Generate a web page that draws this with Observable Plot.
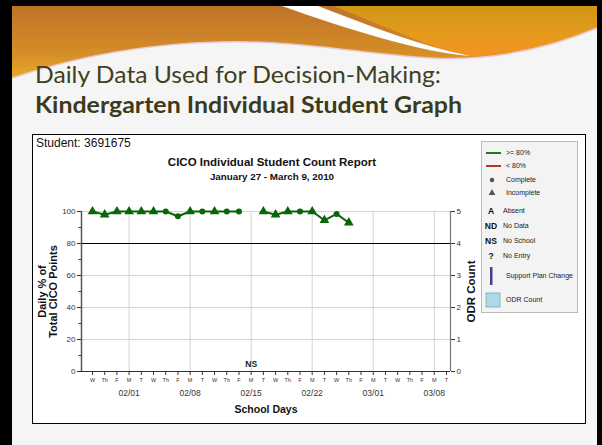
<!DOCTYPE html>
<html>
<head>
<meta charset="utf-8">
<script src="https://cdn.jsdelivr.net/npm/d3@7"></script>
<script src="https://cdn.jsdelivr.net/npm/@observablehq/plot@0.6"></script>
<style>
  html, body { margin: 0; padding: 0; background: #f5f5f5; }
  #slide { position: relative; width: 602px; height: 445px; overflow: hidden; background: #f5f5f5; font-family: "Liberation Sans", Arial, sans-serif; }
  #deco { position: absolute; left: 0; top: 0; }
  #chartbox { position: absolute; left: 32px; top: 134px; width: 552px; height: 288px; background: #fff; border: 1px solid #000; }
  .abs { position: absolute; white-space: nowrap; }
</style>
</head>
<body>
<div id="slide">
  <svg id="deco" width="602" height="445">
    <defs>
      <linearGradient id="gLeft" x1="0" y1="0" x2="0" y2="1">
        <stop offset="0" stop-color="#bb6f2a"/>
        <stop offset="0.6" stop-color="#d58e27"/>
        <stop offset="1" stop-color="#f4b82a"/>
      </linearGradient>
      <linearGradient id="gRight" x1="0" y1="0" x2="0" y2="1">
        <stop offset="0" stop-color="#c99714"/>
        <stop offset="0.6" stop-color="#e59a1c"/>
        <stop offset="1" stop-color="#f39424"/>
      </linearGradient>
    </defs>
    <rect x="0" y="0" width="602" height="90" fill="url(#gLeft)"/>
    <path d="M318,0 L602,0 L602,30 C560,44 520,54 470,56 C440,52 400,32 318,0 Z" fill="url(#gRight)"/>
    <path d="M282,6 L318,6 C370,26 420,46 470,56 C420,52 350,30 282,6 Z" fill="#ffffff"/>
    <path d="M0,90 L12,78 C60,62 130,44 220,42 C300,40 360,54 430,58 C500,62 560,44 602,26 L602,90 Z" fill="#f5f5f5"/>
    <path d="M12,78 C60,62 130,44 220,42 C300,40 360,54 430,58 C500,62 560,44 602,26" fill="none" stroke="#e8c8d0" stroke-width="1.5"/>
    <rect x="0" y="0" width="602" height="6" fill="#000"/>
    <rect x="0" y="0" width="12" height="445" fill="#000"/>
    <rect x="597" y="0" width="5" height="445" fill="#000"/>
    <text x="35" y="83" font-family="Lato, 'Open Sans', sans-serif" font-size="23" fill="#3f3f22" textLength="406" lengthAdjust="spacingAndGlyphs">Daily Data Used for Decision-Making:</text>
    <text x="35" y="113" font-family="Lato, 'Open Sans', sans-serif" font-size="23" font-weight="bold" fill="#3b3b1c" textLength="427" lengthAdjust="spacingAndGlyphs">Kindergarten Individual Student Graph</text>
  </svg>
  <div id="chartbox">
    <div class="abs" style="left:3px;top:1px;font-size:12px;color:#111;">Student: 3691675</div>
    <div class="abs" style="left:0;top:21px;width:478px;text-align:center;font-size:11.5px;font-weight:bold;color:#111;">CICO Individual Student Count Report</div>
    <div class="abs" style="left:0;top:36px;width:478px;text-align:center;font-size:9.8px;font-weight:bold;color:#111;">January 27 - March 9, 2010</div>
    <div id="plot" class="abs" style="left:0;top:50px;"></div>
    <div id="legend" class="abs" style="left:448px;top:6px;"></div>
  </div>
</div>
<script>
// ---- data ----
const days = ["W","Th","F","M","T","W","Th","F","M","T","W","Th","F","M","T","W","Th","F","M","T","W","Th","F","M","T","W","Th","F","M","T"];
const mondayIdx = [3, 8, 13, 18, 23, 28];
const mondayLabels = ["02/01","02/08","02/15","02/22","03/01","03/08"];
const pct = [100, 98, 100, 100, 100, 100, 100, 97, 100, 100, 100, 100, 100, null, 100, 98, 100, 100, 100, 94.5, 98.5, 93];
const status = ["I","I","I","I","I","I","C","C","I","C","I","C","C", null, "I","I","I","C","I","I","C","I"];
const pctTicks = [0, 20, 40, 60, 80, 100];
const pctMinorTicks = [10, 30, 50, 70, 90];
const pctGrid = [20, 40, 60, 100];
const goalPct = 80;
const odrTicks = [0, 1, 2, 3, 4, 5];
const odrMax = 5;
const noSchoolIdx = [13];
const legendLines = [">= 80%", "< 80%"];
const legendMarkers = ["Complete", "Incomplete"];
const legendCodes = ["A", "ND", "NS", "?"];
const legendCodeLabels = ["Absent", "No Data", "No School", "No Entry"];
const legendOther = ["Support Plan Change", "ODR Count"];

// ---- table ----
const rows = days.map((d, i) => ({ i, day: d, pct: pct[i] ?? null, status: status[i] ?? null }));
const valid = rows.filter(d => d.pct != null);
const x0 = -0.9, x1 = 29.33;
const green = "#0a640a";

const chart = Plot.plot({
  width: 552, height: 238,
  marginLeft: 48, marginRight: 135, marginTop: 26, marginBottom: 52,
  x: { type: "linear", domain: [x0, x1] },
  y: { domain: [0, 100] },
  style: { fontFamily: "'Liberation Sans', Arial, sans-serif", fontSize: "8px", color: "#333", background: "transparent", overflow: "visible" },
  marks: [
    Plot.ruleX(mondayIdx, { y1: 0, y2: 100, stroke: "#d4d4d4" }),
    Plot.ruleY(pctGrid, { x1: x0, x2: x1, stroke: "#d4d4d4" }),
    Plot.ruleY([goalPct], { x1: x0, x2: x1, stroke: "#000", strokeWidth: 1.2 }),
    Plot.axisY({ ticks: pctTicks, tickSize: 4, tickPadding: 2, fontSize: 8, label: null, anchor: "left" }),
    Plot.axisY({ ticks: pctMinorTicks, tickSize: 2.5, tickFormat: () => "", label: null, anchor: "left" }),
    Plot.axisY({ ticks: odrTicks.map(v => v * 100 / odrMax), tickFormat: d => d * odrMax / 100, tickSize: 4, tickPadding: 2, fontSize: 8, label: null, anchor: "right" }),
    Plot.ruleX([x0], { y1: 0, y2: 100, stroke: "#555", strokeWidth: 1.5 }),
    Plot.ruleX([x1], { y1: 0, y2: 100, stroke: "#777", strokeWidth: 1.2 }),
    Plot.ruleY([0], { x1: x0, x2: x1, stroke: "#333", strokeWidth: 1.2 }),
    Plot.axisX({ ticks: rows.map(d => d.i), tickFormat: i => days[i], tickSize: 4, tickPadding: 3, fontSize: 5.5, label: null }),
    Plot.axisX({ ticks: mondayIdx, tickFormat: i => mondayLabels[mondayIdx.indexOf(i)], tickSize: 0, tickPadding: 18, fontSize: 8.5, label: null }),
    Plot.text(["School Days"], { frameAnchor: "bottom", dy: 41, fontWeight: "bold", fontSize: 10.5, fill: "#111" }),
    Plot.text(["Daily % of\nTotal CICO Points"], { frameAnchor: "left", textAnchor: "middle", dx: -34, rotate: -90, fontWeight: "bold", fontSize: 11, lineHeight: 1.0, fill: "#111" }),
    Plot.text(["ODR Count"], { frameAnchor: "right", textAnchor: "middle", dx: 21, rotate: -90, fontWeight: "bold", fontSize: 11.5, fill: "#111" }),
    Plot.text(noSchoolIdx, { x: d => d, y: 0, text: () => "NS", dy: -7, fontWeight: "bold", fontSize: 8.5, fill: "#222" }),
    Plot.line(rows, { x: "i", y: "pct", stroke: green, strokeWidth: 2 }),
    Plot.dot(valid.filter(d => d.status === "C"), { x: "i", y: "pct", symbol: "circle", r: 3, fill: green }),
    Plot.dot(valid.filter(d => d.status !== "C"), { x: "i", y: "pct", symbol: "triangle", r: 3.6, fill: green })
  ]
});
document.getElementById("plot").appendChild(chart);

// ---- legend ----
const lg = d3.select("#legend").append("svg").attr("width", 97).attr("height", 172)
  .style("font-family", "'Liberation Sans', Arial, sans-serif");
lg.append("rect").attr("x", 0.5).attr("y", 0.5).attr("width", 96).attr("height", 171).attr("fill", "#f3f3f3").attr("stroke", "#bbb");
const lineColors = ["#1c7a1c", "#b83232"];
legendLines.forEach((t, k) => {
  const y = 12 + k * 13;
  lg.append("line").attr("x1", 5).attr("x2", 20).attr("y1", y).attr("y2", y).attr("stroke", lineColors[k]).attr("stroke-width", 2);
  lg.append("text").attr("x", 25).attr("y", y).attr("dy", "0.35em").attr("font-size", 7).attr("fill", "#222").text(t);
});
legendMarkers.forEach((t, k) => {
  const y = 39 + k * 13;
  const sym = k === 0 ? d3.symbolCircle : d3.symbolTriangle;
  lg.append("path").attr("d", d3.symbol(sym, k === 0 ? 16 : 20)()).attr("transform", `translate(11,${y})`).attr("fill", "#555");
  lg.append("text").attr("x", 25).attr("y", y).attr("dy", "0.35em").attr("font-size", 7).attr("fill", "#222").text(t);
});
legendCodes.forEach((c, k) => {
  const y = 70 + k * 15;
  lg.append("text").attr("x", 10).attr("y", y).attr("dy", "0.35em").attr("text-anchor", "middle").attr("font-size", 8.5).attr("font-weight", "bold").attr("fill", "#111").text(c);
  lg.append("text").attr("x", 22).attr("y", y).attr("dy", "0.35em").attr("font-size", 7).attr("fill", "#222").text(legendCodeLabels[k]);
});
lg.append("rect").attr("x", 9).attr("y", 126).attr("width", 2.5).attr("height", 18).attr("fill", "#4a3d8c");
lg.append("text").attr("x", 25).attr("y", 135).attr("dy", "0.35em").attr("font-size", 7).attr("fill", "#222").text(legendOther[0]);
lg.append("rect").attr("x", 5).attr("y", 152).attr("width", 14).attr("height", 14).attr("fill", "#add8e6").attr("stroke", "#7aa").attr("stroke-width", 0.8);
lg.append("text").attr("x", 25).attr("y", 159).attr("dy", "0.35em").attr("font-size", 7).attr("fill", "#222").text(legendOther[1]);
</script>
</body>
</html>
